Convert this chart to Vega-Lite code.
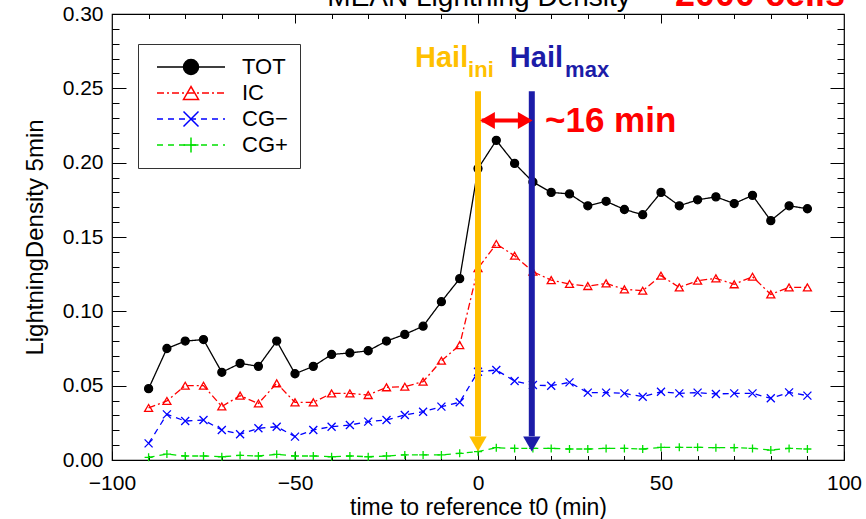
{
  "$schema": "https://vega.github.io/schema/vega-lite/v6.json",
  "width": 732,
  "height": 446,
  "autosize": {"type": "none"},
  "padding": {"left": 112, "top": 14, "right": 22, "bottom": 59},
  "background": "white",
  "config": {
    "view": {"stroke": "black", "strokeWidth": 1.2},
    "font": "Liberation Sans",
    "axis": {"grid": false, "domain": false, "tickColor": "black", "tickWidth": 1, "labelColor": "black", "titleColor": "black", "labelFont": "Liberation Sans", "titleFont": "Liberation Sans"}
  },
  "data": {
    "values": [
      {"t": -90, "TOT": 0.048, "IC": 0.035, "CG−": 0.0112, "CG+": 0.0018},
      {"t": -85, "TOT": 0.075, "IC": 0.0397, "CG−": 0.0307, "CG+": 0.004},
      {"t": -80, "TOT": 0.080, "IC": 0.050, "CG−": 0.0262, "CG+": 0.0027},
      {"t": -75, "TOT": 0.081, "IC": 0.050, "CG−": 0.0269, "CG+": 0.0027},
      {"t": -70, "TOT": 0.059, "IC": 0.036, "CG−": 0.0202, "CG+": 0.0022},
      {"t": -65, "TOT": 0.065, "IC": 0.0433, "CG−": 0.0173, "CG+": 0.0031},
      {"t": -60, "TOT": 0.063, "IC": 0.038, "CG−": 0.0213, "CG+": 0.0027},
      {"t": -55, "TOT": 0.080, "IC": 0.0516, "CG−": 0.0224, "CG+": 0.0038},
      {"t": -50, "TOT": 0.058, "IC": 0.0388, "CG−": 0.0157, "CG+": 0.0027},
      {"t": -45, "TOT": 0.063, "IC": 0.0388, "CG−": 0.0202, "CG+": 0.0027},
      {"t": -40, "TOT": 0.071, "IC": 0.0448, "CG−": 0.0224, "CG+": 0.0022},
      {"t": -35, "TOT": 0.072, "IC": 0.0448, "CG−": 0.0235, "CG+": 0.0027},
      {"t": -30, "TOT": 0.0735, "IC": 0.0437, "CG−": 0.0258, "CG+": 0.0022},
      {"t": -25, "TOT": 0.080, "IC": 0.0489, "CG−": 0.0269, "CG+": 0.0027},
      {"t": -20, "TOT": 0.0845, "IC": 0.0493, "CG−": 0.0303, "CG+": 0.0034},
      {"t": -15, "TOT": 0.090, "IC": 0.0527, "CG−": 0.0325, "CG+": 0.0034},
      {"t": -10, "TOT": 0.1065, "IC": 0.0668, "CG−": 0.0359, "CG+": 0.0034},
      {"t": -5, "TOT": 0.122, "IC": 0.0773, "CG−": 0.0388, "CG+": 0.0045},
      {"t": 0, "TOT": 0.196, "IC": 0.129, "CG−": 0.0594, "CG+": 0.0056},
      {"t": 5, "TOT": 0.215, "IC": 0.1453, "CG−": 0.0605, "CG+": 0.0083},
      {"t": 10, "TOT": 0.1995, "IC": 0.1374, "CG−": 0.0531, "CG+": 0.0078},
      {"t": 15, "TOT": 0.187, "IC": 0.1267, "CG−": 0.0504, "CG+": 0.0078},
      {"t": 20, "TOT": 0.180, "IC": 0.121, "CG−": 0.050, "CG+": 0.0078},
      {"t": 25, "TOT": 0.179, "IC": 0.1184, "CG−": 0.0522, "CG+": 0.0074},
      {"t": 30, "TOT": 0.171, "IC": 0.117, "CG−": 0.0453, "CG+": 0.0074},
      {"t": 35, "TOT": 0.174, "IC": 0.1188, "CG−": 0.0453, "CG+": 0.0078},
      {"t": 40, "TOT": 0.1685, "IC": 0.1148, "CG−": 0.0448, "CG+": 0.0078},
      {"t": 45, "TOT": 0.165, "IC": 0.1139, "CG−": 0.0426, "CG+": 0.0074},
      {"t": 50, "TOT": 0.180, "IC": 0.124, "CG−": 0.0459, "CG+": 0.0085},
      {"t": 55, "TOT": 0.171, "IC": 0.1161, "CG−": 0.0448, "CG+": 0.0085},
      {"t": 60, "TOT": 0.175, "IC": 0.1206, "CG−": 0.0453, "CG+": 0.0085},
      {"t": 65, "TOT": 0.177, "IC": 0.1222, "CG−": 0.0444, "CG+": 0.0083},
      {"t": 70, "TOT": 0.1725, "IC": 0.1182, "CG−": 0.0448, "CG+": 0.0083},
      {"t": 75, "TOT": 0.178, "IC": 0.1233, "CG−": 0.0448, "CG+": 0.0078},
      {"t": 80, "TOT": 0.161, "IC": 0.1114, "CG−": 0.0415, "CG+": 0.0067},
      {"t": 85, "TOT": 0.171, "IC": 0.1161, "CG−": 0.0455, "CG+": 0.0078},
      {"t": 90, "TOT": 0.169, "IC": 0.1161, "CG−": 0.0433, "CG+": 0.0074}
    ]
  },
  "resolve": {"axis": {"x": "independent", "y": "independent"}},
  "layer": [
    {
      "transform": [{"fold": ["TOT", "IC", "CG−", "CG+"], "as": ["series", "v"]}],
      "mark": {"type": "line", "strokeWidth": 1.3},
      "encoding": {
        "x": {"field": "t", "type": "quantitative", "scale": {"domain": [-100, 100], "nice": false, "zero": false},
          "axis": {"orient": "bottom", "values": [-100, -50, 0, 50, 100], "tickSize": 9, "offset": -9, "labelPadding": 12, "labelFontSize": 21, "labelFlush": false, "labelOverlap": false, "title": "time to reference t0 (min)", "titleFontSize": 23, "titleFontWeight": "normal", "titlePadding": 3}},
        "y": {"field": "v", "type": "quantitative", "scale": {"domain": [0, 0.3], "nice": false, "zero": false},
          "axis": {"orient": "left", "values": [0, 0.05, 0.1, 0.15, 0.2, 0.25, 0.3], "format": ".2f", "tickSize": 14, "offset": -14, "labelPadding": 9, "labelFontSize": 21, "labelFlush": false, "labelOverlap": false, "title": "LightningDensity 5min", "titleFontSize": 24, "titleFontWeight": "normal", "titlePadding": 15}},
        "color": {"field": "series", "type": "nominal", "sort": "descending",
          "scale": {"range": ["#000000", "#ff0000", "#0000ff", "#00e000"]},
          "legend": {"orient": "none", "legendX": 26, "legendY": 30, "title": null, "symbolType": "M-6.8,0H6.8", "symbolSize": 100, "symbolStrokeWidth": 1.3, "labelFontSize": 22, "labelFont": "Liberation Sans", "labelColor": "black", "padding": 12, "rowPadding": 4, "symbolOffset": 30, "labelOffset": 40, "strokeColor": "#333333", "fillColor": "white", "labelLimit": 200}},
        "strokeDash": {"field": "series", "type": "nominal", "sort": "descending",
          "scale": {"range": [[1, 0], [7, 3, 2, 3], [6, 5], [6, 5]]}}
      }
    },
    {
      "transform": [{"fold": ["TOT", "IC", "CG−", "CG+"], "as": ["series", "v"]}, {"filter": "datum.v >= 0"}],
      "mark": {"type": "point", "size": 64, "strokeWidth": 1.3, "opacity": 1},
      "encoding": {
        "x": {"field": "t", "type": "quantitative",
          "axis": {"orient": "bottom", "values": [-90, -80, -70, -60, -40, -30, -20, -10, 10, 20, 30, 40, 60, 70, 80, 90], "tickSize": 4.5, "offset": -4.5, "labels": false, "title": null}},
        "y": {"field": "v", "type": "quantitative",
          "axis": {"orient": "left", "values": [0.01, 0.02, 0.03, 0.04, 0.06, 0.07, 0.08, 0.09, 0.11, 0.12, 0.13, 0.14, 0.16, 0.17, 0.18, 0.19, 0.21, 0.22, 0.23, 0.24, 0.26, 0.27, 0.28, 0.29], "tickSize": 7, "offset": -7, "labels": false, "title": null}},
        "stroke": {"field": "series", "type": "nominal", "sort": "descending",
          "scale": {"range": ["#000000", "#ff0000", "#0000ff", "#00e000"]},
          "legend": {"orient": "none", "legendX": 26, "legendY": 30, "title": null, "symbolSize": 225, "symbolStrokeWidth": 1.5, "labelFontSize": 22, "labelFont": "Liberation Sans", "labelColor": "transparent", "padding": 12, "rowPadding": 4, "symbolOffset": 30, "labelOffset": 40, "labelLimit": 200}},
        "shape": {"field": "series", "type": "nominal", "sort": "descending",
          "scale": {"range": ["circle", "triangle-up", "M-1,-1L1,1M-1,1L1,-1", "M-1,0H1M0,-1V1"]}},
        "fill": {"field": "series", "type": "nominal", "sort": "descending",
          "scale": {"range": ["#000000", "transparent", "transparent", "transparent"]}}
      }
    },
    {
      "data": {"values": [{}]},
      "mark": {"type": "rule", "color": "#ffc000", "strokeWidth": 6},
      "encoding": {
        "x": {"datum": 0, "type": "quantitative", "axis": {"orient": "top", "values": [-50, 0, 50], "tickSize": 9, "offset": -9, "labels": false, "title": null}},
        "y": {"datum": 0.248, "type": "quantitative", "axis": {"orient": "right", "values": [0.05, 0.1, 0.15, 0.2, 0.25], "tickSize": 14, "offset": -14, "labels": false, "title": null}},
        "y2": {"datum": 0.016}
      }
    },
    {
      "data": {"values": [{}]},
      "mark": {"type": "rule", "color": "#1c1ca8", "strokeWidth": 6},
      "encoding": {
        "x": {"datum": 14.7, "type": "quantitative", "axis": {"orient": "top", "values": [-90, -80, -70, -60, -40, -30, -20, -10, 10, 20, 30, 40, 60, 70, 80, 90], "tickSize": 4.5, "offset": -4.5, "labels": false, "title": null}},
        "y": {"datum": 0.248, "type": "quantitative", "axis": {"orient": "right", "values": [0.01, 0.02, 0.03, 0.04, 0.06, 0.07, 0.08, 0.09, 0.11, 0.12, 0.13, 0.14, 0.16, 0.17, 0.18, 0.19, 0.21, 0.22, 0.23, 0.24, 0.26, 0.27, 0.28, 0.29], "tickSize": 7, "offset": -7, "labels": false, "title": null}},
        "y2": {"datum": 0.016}
      }
    },
    {
      "data": {"values": [{}]},
      "mark": {"type": "point", "shape": "triangle-down", "filled": true, "color": "#ffc000", "size": 300, "opacity": 1},
      "encoding": {
        "x": {"datum": 0, "type": "quantitative", "axis": null},
        "y": {"datum": 0.0108, "type": "quantitative", "axis": null}
      }
    },
    {
      "data": {"values": [{}]},
      "mark": {"type": "point", "shape": "triangle-down", "filled": true, "color": "#1c1ca8", "size": 300, "opacity": 1},
      "encoding": {
        "x": {"datum": 14.7, "type": "quantitative", "axis": null},
        "y": {"datum": 0.0108, "type": "quantitative", "axis": null}
      }
    },
    {
      "data": {"values": [{}]},
      "mark": {"type": "rule", "color": "#ff0000", "strokeWidth": 4},
      "encoding": {
        "x": {"datum": 1.0, "type": "quantitative", "axis": null},
        "x2": {"datum": 13.9},
        "y": {"datum": 0.2283, "type": "quantitative", "axis": null}
      }
    },
    {
      "data": {"values": [{}]},
      "mark": {"type": "point", "shape": "triangle-left", "filled": true, "color": "#ff0000", "size": 289, "opacity": 1},
      "encoding": {
        "x": {"datum": 2.6, "type": "quantitative", "axis": null},
        "y": {"datum": 0.2283, "type": "quantitative", "axis": null}
      }
    },
    {
      "data": {"values": [{}]},
      "mark": {"type": "point", "shape": "triangle-right", "filled": true, "color": "#ff0000", "size": 289, "opacity": 1},
      "encoding": {
        "x": {"datum": 12.9, "type": "quantitative", "axis": null},
        "y": {"datum": 0.2283, "type": "quantitative", "axis": null}
      }
    },
    {
      "data": {"values": [{}]},
      "mark": {"type": "text", "text": "Hail", "font": "Liberation Sans", "fontWeight": "bold", "fontSize": 29, "color": "#ffc000", "align": "left", "baseline": "alphabetic"},
      "encoding": {
        "x": {"datum": -17.2, "type": "quantitative", "axis": null},
        "y": {"datum": 0.2641, "type": "quantitative", "axis": null}
      }
    },
    {
      "data": {"values": [{}]},
      "mark": {"type": "text", "text": "ini", "font": "Liberation Sans", "fontWeight": "bold", "fontSize": 22, "color": "#ffc000", "align": "left", "baseline": "alphabetic"},
      "encoding": {
        "x": {"datum": -2.7, "type": "quantitative", "axis": null},
        "y": {"datum": 0.2576, "type": "quantitative", "axis": null}
      }
    },
    {
      "data": {"values": [{}]},
      "mark": {"type": "text", "text": "Hail", "font": "Liberation Sans", "fontWeight": "bold", "fontSize": 29, "color": "#1c1ca8", "align": "left", "baseline": "alphabetic"},
      "encoding": {
        "x": {"datum": 8.7, "type": "quantitative", "axis": null},
        "y": {"datum": 0.2641, "type": "quantitative", "axis": null}
      }
    },
    {
      "data": {"values": [{}]},
      "mark": {"type": "text", "text": "max", "font": "Liberation Sans", "fontWeight": "bold", "fontSize": 22, "color": "#1c1ca8", "align": "left", "baseline": "alphabetic"},
      "encoding": {
        "x": {"datum": 23.8, "type": "quantitative", "axis": null},
        "y": {"datum": 0.2576, "type": "quantitative", "axis": null}
      }
    },
    {
      "data": {"values": [{}]},
      "mark": {"type": "text", "text": "~16 min", "font": "Liberation Sans", "fontWeight": "bold", "fontSize": 35, "color": "#ff0000", "align": "left", "baseline": "alphabetic"},
      "encoding": {
        "x": {"datum": 18.3, "type": "quantitative", "axis": null},
        "y": {"datum": 0.2206, "type": "quantitative", "axis": null}
      }
    },
    {
      "data": {"values": [{}]},
      "mark": {"type": "text", "text": "MEAN Lightning Density", "font": "Liberation Sans", "fontSize": 28, "color": "#000000", "align": "center", "baseline": "alphabetic"},
      "encoding": {
        "x": {"datum": 0.3, "type": "quantitative", "axis": null},
        "y": {"datum": 0.3053, "type": "quantitative", "axis": null}
      }
    },
    {
      "data": {"values": [{}]},
      "mark": {"type": "text", "text": "2000 cells", "font": "Liberation Sans", "fontWeight": "bold", "fontSize": 36, "color": "#ff0000", "align": "left", "baseline": "alphabetic"},
      "encoding": {
        "x": {"datum": 53.8, "type": "quantitative", "axis": null},
        "y": {"datum": 0.3053, "type": "quantitative", "axis": null}
      }
    }
  ]
}
